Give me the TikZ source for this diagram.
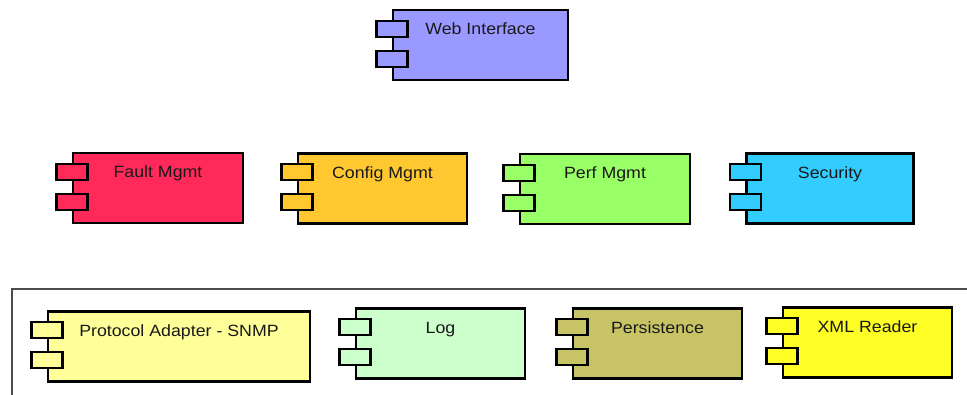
\documentclass[tikz,border=0pt]{standalone}
\usepackage{fontspec}
\newfontfamily\lab[FakeStretch=1.09]{Liberation Sans}
\definecolor{cweb}{HTML}{9999FF}
\definecolor{cfault}{HTML}{FF2A5A}
\definecolor{cconfig}{HTML}{FFC830}
\definecolor{cperf}{HTML}{99FF66}
\definecolor{csec}{HTML}{33CCFF}
\definecolor{cproto}{HTML}{FFFF99}
\definecolor{clog}{HTML}{CCFFCC}
\definecolor{cpers}{HTML}{C8C466}
\definecolor{cxml}{HTML}{FFFF26}
\tikzset{
  compbox/.style={draw=black, line width=2.2pt, rectangle, minimum height=70pt, inner sep=0pt},
  comptab/.style={draw=black, line width=2.2pt, rectangle, minimum width=31pt, minimum height=16pt, inner sep=0pt},
  complbl/.style={anchor=base, inner sep=0pt, font=\lab\fontsize{16.3}{19}\selectfont, text=black!90},
  container/.style={draw=black!70, line width=1.4pt}
}
\newcommand{\component}[6]{% name, x, y, width, color, text
  \node[compbox, minimum width=#4pt, fill=#5] (#1) at (#2,#3) {};
  \node[comptab, fill=#5] (#1t1) at ([yshift=-20pt]#1.north west) {};
  \node[comptab, fill=#5] (#1t2) at ([yshift=-50pt]#1.north west) {};
  \node[complbl] (#1l) at ([yshift=-26pt]#1.north) {#6};
}
\begin{document}
\begin{tikzpicture}[x=1pt,y=-1pt]
\useasboundingbox (0,0) rectangle (967,395);
\clip (0,0) rectangle (967,395);
\fill[white] (0,0) rectangle (967,395);
\coordinate (cnw) at (12,289);
\coordinate (cse) at (990,420);
\draw[container] (cnw) rectangle (cse);
\component{web}{480.5}{45}{175}{cweb}{Web Interface}
\component{fault}{158}{188}{170}{cfault}{Fault Mgmt}
\component{config}{382.5}{188.5}{169}{cconfig}{Config Mgmt}
\component{perf}{605}{189}{170}{cperf}{Perf Mgmt}
\component{sec}{830}{188.5}{167}{csec}{Security}
\component{proto}{179}{346.5}{262}{cproto}{Protocol Adapter - SNMP}
\component{log}{440.5}{343.5}{169}{clog}{Log}
\component{pers}{657.5}{343.5}{169}{cpers}{Persistence}
\component{xml}{867.5}{342.5}{169}{cxml}{XML Reader}
\end{tikzpicture}
\end{document}
